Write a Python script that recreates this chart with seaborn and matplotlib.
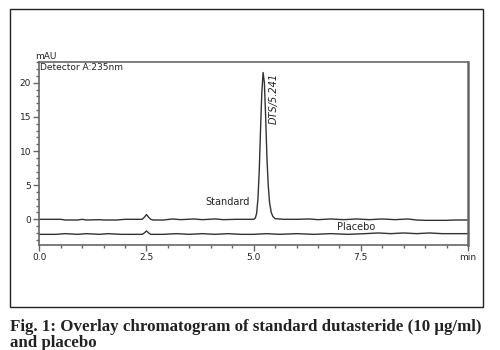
import matplotlib
matplotlib.use("Agg")
import matplotlib.pyplot as plt
import seaborn as sns
import pandas as pd
from matplotlib.ticker import MultipleLocator, FixedLocator, FixedFormatter
from matplotlib.patches import Rectangle

# ---- data ----
std_time = [0.0, 0.5, 0.6, 0.9, 1.0, 1.1, 1.4, 1.5, 1.8, 2.0, 2.4, 2.45, 2.5, 2.55,
            2.6, 2.65, 2.9, 3.1, 3.3, 3.6, 3.8, 4.1, 4.3, 4.6, 5.0, 5.04, 5.07, 5.10,
            5.13, 5.16, 5.19, 5.22, 5.25, 5.28, 5.31, 5.34, 5.37, 5.41, 5.45, 5.5,
            5.7, 6.0, 6.3, 6.5, 6.8, 7.1, 7.4, 7.7, 8.0, 8.3, 8.6, 8.8, 9.0, 9.5,
            9.7, 10.0]
std_mau = [0.0, 0.0, -0.1, -0.1, 0.0, -0.1, -0.05, -0.1, -0.1, 0.0, 0.0, 0.3, 0.7, 0.3,
           0.0, -0.1, -0.1, 0.05, -0.05, 0.05, -0.05, 0.05, -0.05, 0.0, 0.0, 0.2, 0.9, 3.0,
           7.0, 13.0, 18.5, 21.5, 20.0, 15.0, 9.0, 5.0, 2.5, 1.0, 0.4, 0.1,
           0.0, 0.0, 0.05, -0.05, 0.05, -0.05, 0.05, -0.05, 0.05, -0.05, 0.05, -0.1, -0.15, -0.15,
           -0.1, -0.1]

pla_time = [0.0, 0.4, 0.6, 0.9, 1.1, 1.4, 1.6, 1.9, 2.1, 2.4, 2.45, 2.5, 2.55, 2.6,
            2.9, 3.2, 3.5, 3.8, 4.1, 4.4, 4.7, 5.0, 5.3, 5.6, 6.0, 6.4, 6.8, 7.2,
            7.6, 7.9, 8.2, 8.5, 8.8, 9.1, 9.4, 9.7, 10.0]
pla_mau = [-2.2, -2.2, -2.1, -2.2, -2.1, -2.2, -2.1, -2.2, -2.2, -2.2, -2.0, -1.7, -2.0, -2.2,
           -2.2, -2.1, -2.2, -2.1, -2.2, -2.1, -2.2, -2.2, -2.1, -2.2, -2.1, -2.2, -2.1, -2.2,
           -2.1, -2.0, -2.1, -2.0, -2.1, -2.0, -2.1, -2.1, -2.1]

x_ticks = [0.0, 2.5, 5.0, 7.5, 10.0]
x_tick_labels = ["0.0", "2.5", "5.0", "7.5", "min"]
y_ticks = [0, 5, 10, 15, 20]
y_tick_labels = ["0", "5", "10", "15", "20"]

std_df = pd.DataFrame({"time": std_time, "mAU": std_mau})
pla_df = pd.DataFrame({"time": pla_time, "mAU": pla_mau})

sns.set_style("white")
plt.rcParams['font.family'] = ['DejaVu Sans']

fig = plt.figure(figsize=(5, 3.5), dpi=100)
ax = fig.add_axes([0.0786, 0.3014, 0.8574, 0.5226])

line_col = "#333333"
sns.lineplot(data=std_df, x="time", y="mAU", ax=ax, color=line_col, lw=1.0)
sns.lineplot(data=pla_df, x="time", y="mAU", ax=ax, color=line_col, lw=1.0)

ax.set_xlim(0, 10)
ax.set_ylim(-3.69, 23.1)
ax.set_xlabel("")
ax.set_ylabel("")

spine_col = "#666666"
for s in ax.spines.values():
    s.set_visible(True)
    s.set_color(spine_col)
    s.set_linewidth(1.2)
ax.spines["right"].set_linewidth(1.8)

ax.xaxis.set_major_locator(FixedLocator(x_ticks))
ax.xaxis.set_major_formatter(FixedFormatter(x_tick_labels))
ax.xaxis.set_minor_locator(MultipleLocator(0.5))
ax.yaxis.set_major_locator(FixedLocator(y_ticks))
ax.yaxis.set_major_formatter(FixedFormatter(y_tick_labels))
ax.yaxis.set_minor_locator(MultipleLocator(1))
ax.tick_params(which="major", direction="out", length=4, width=1, color=spine_col,
               labelsize=6.5, labelcolor="#222222", pad=2,
               bottom=True, left=True)
ax.tick_params(which="minor", direction="out", length=2, width=1, color=spine_col,
               bottom=True, left=True)

lab_fs = 7
ax.text(-0.01, 1.005, "mAU", transform=ax.transAxes, fontsize=6.5, color="#222222",
        ha="left", va="bottom")
ax.text(0.002, 0.995, "Detector A:235nm", transform=ax.transAxes, fontsize=6.5,
        color="#222222", ha="left", va="top")
ax.text(4.92, 1.8, "Standard", fontsize=lab_fs, color="#222222", ha="right", va="bottom")
ax.text(7.38, -1.9, "Placebo", fontsize=lab_fs, color="#222222", ha="center", va="bottom")
ax.text(5.47, 21.5, "DTS/5.241", fontsize=lab_fs, color="#222222", rotation=90,
        style="italic", ha="center", va="top")

# outer frame
fig.patches.append(Rectangle((10 / 500, 1 - 307 / 350), 473 / 500, 298 / 350,
                             transform=fig.transFigure, fill=False,
                             edgecolor="#222222", lw=1.0))

cap_font = ['Liberation Serif', 'DejaVu Serif']
fig.text(10 / 500, 1 - 331 / 350,
         "Fig. 1: Overlay chromatogram of standard dutasteride (10 \u00b5g/ml)",
         family=cap_font, fontweight="bold", fontsize=12.2, color="#222222",
         ha="left", va="baseline")
fig.text(10 / 500, 1 - 347 / 350, "and placebo",
         family=cap_font, fontweight="bold", fontsize=12.2, color="#222222",
         ha="left", va="baseline")

fig.savefig("out.png", dpi=100, facecolor="white")
